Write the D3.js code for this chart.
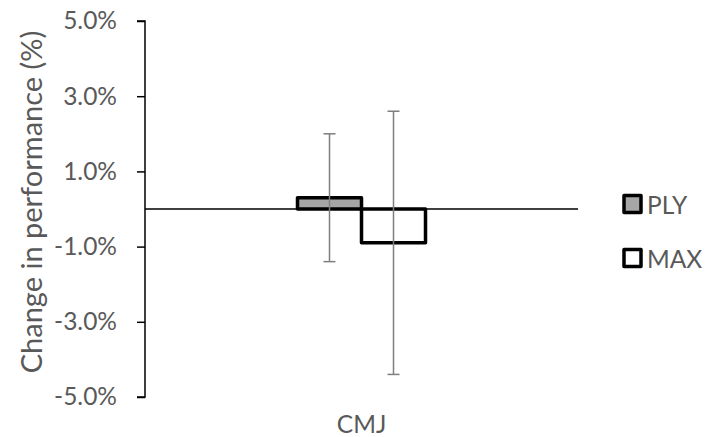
<!DOCTYPE html>
<html>
<head>
<meta charset="utf-8">
<script src="https://cdn.jsdelivr.net/npm/d3@7"></script>
<style>
  body { margin: 0; background: #fff; }
  text { font-family: Lato, "Open Sans", sans-serif; fill: #595959; }
</style>
</head>
<body>
<div id="chart"></div>
<script>
// data
let categories = ["CMJ"]
let seriesNames = ["PLY", "MAX"]
let seriesValues = [0.3, -0.9]      // mean change (%)
let seriesErrors = [1.7, 3.5]       // +/- error (%)
let yTicks = [-5, -3, -1, 1, 3, 5]
let seriesFill = ["#a6a6a6", "#ffffff"]

let svgWidth = 715, svgHeight = 437
let margin = {top: 21, right: 137, bottom: 40, left: 145}
let fontSize = "24.5px"

let svg = d3.select("#chart").append("svg")
  .attr("width", svgWidth)
  .attr("height", svgHeight)

let yScale = d3.scaleLinear()
  .domain([-5, 5])
  .range([svgHeight - margin.bottom, margin.top])

let xScale = d3.scaleBand()
  .domain(categories)
  .range([margin.left, svgWidth - margin.right])

let subScale = d3.scaleBand()
  .domain(seriesNames)
  .range([0, 128])

// y axis
let yAxis = d3.axisLeft(yScale)
  .tickValues(yTicks)
  .tickSize(8)
  .tickPadding(20)
  .tickFormat(d => (d < 0 ? "-" : "") + Math.abs(d).toFixed(1) + "%")

let gy = svg.append("g")
  .attr("transform", "translate(" + margin.left + ",0)")
  .call(yAxis)
gy.select(".domain").attr("stroke", "#000").attr("stroke-width", 1.5)
  .attr("d", "M-8," + yScale(5) + "H0V" + yScale(-5) + "H-8")
gy.selectAll(".tick line").attr("stroke", "#000").attr("stroke-width", 1.5)
gy.selectAll(".tick text")
  .style("font-size", fontSize)
  .style("font-family", "Lato, sans-serif")
  .attr("fill", "#595959")

// y title
svg.append("text")
  .attr("transform", "translate(30,202) rotate(-90)")
  .attr("text-anchor", "middle")
  .attr("dominant-baseline", "central")
  .style("font-size", "29px")
  .text("Change in performance (%)")

// zero line (category axis)
svg.append("line")
  .attr("x1", margin.left).attr("x2", svgWidth - margin.right)
  .attr("y1", yScale(0)).attr("y2", yScale(0))
  .attr("stroke", "#000").attr("stroke-width", 1.5)

// bars
let barsArea = svg.append("g")
categories.forEach(function(cat) {
  let x0 = xScale(cat) + xScale.bandwidth() / 2 - 64
  barsArea.selectAll("rect.bar").data(seriesValues).enter()
    .append("rect")
    .attr("class", "bar")
    .attr("x", (d, i) => x0 + subScale(seriesNames[i]))
    .attr("y", d => yScale(Math.max(0, d)))
    .attr("width", subScale.bandwidth())
    .attr("height", d => Math.abs(yScale(d) - yScale(0)))
    .attr("fill", (d, i) => seriesFill[i])
    .attr("stroke", "#000")
    .attr("stroke-width", 3.5)
    .attr("stroke-linejoin", "round")

  // error bars
  let err = barsArea.selectAll("g.err").data(seriesValues).enter()
    .append("g").attr("class", "err")
  err.each(function(d, i) {
    let cx = x0 + subScale(seriesNames[i]) + subScale.bandwidth() / 2
    let g = d3.select(this)
    let lo = yScale(d - seriesErrors[i]), hi = yScale(d + seriesErrors[i])
    g.append("line").attr("x1", cx).attr("x2", cx).attr("y1", hi).attr("y2", lo)
    g.append("line").attr("x1", cx - 6).attr("x2", cx + 6).attr("y1", hi).attr("y2", hi)
    g.append("line").attr("x1", cx - 6).attr("x2", cx + 6).attr("y1", lo).attr("y2", lo)
    g.selectAll("line").attr("stroke", "#7f7f7f").attr("stroke-width", 1.5)
  })

  svg.append("text")
    .attr("x", xScale(cat) + xScale.bandwidth() / 2)
    .attr("y", 423)
    .attr("text-anchor", "middle")
    .attr("dominant-baseline", "central")
    .style("font-size", fontSize)
    .text(cat)
})

// legend
let legend = svg.append("g")
let legendY = [204, 258]
seriesNames.forEach(function(name, i) {
  legend.append("rect")
    .attr("x", 624).attr("y", legendY[i] - 8.5)
    .attr("width", 17).attr("height", 17)
    .attr("fill", seriesFill[i])
    .attr("stroke", "#000").attr("stroke-width", 3.5)
    .attr("stroke-linejoin", "round")
  legend.append("text")
    .attr("x", 647).attr("y", legendY[i])
    .attr("dominant-baseline", "central")
    .style("font-size", fontSize)
    .text(name)
})
</script>
</body>
</html>
